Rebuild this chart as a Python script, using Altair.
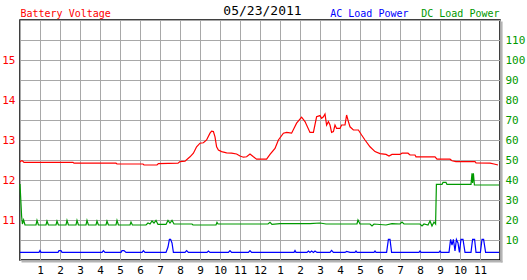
import altair as alt
import pandas as pd

# ---------------- data ----------------
volt_hours = [0.0, 0.05, 0.12, 0.2, 2.65, 2.7, 4.8, 4.85, 6.15, 6.2, 6.85, 6.92, 7.9, 8.0,
              8.25, 8.5, 8.67, 8.83, 9.0, 9.17, 9.33, 9.5, 9.58, 9.67, 9.75, 9.83, 9.92,
              10.08, 10.33, 10.58, 10.83, 11.0, 11.17, 11.33, 11.5, 11.67, 11.83, 12.0,
              12.33, 12.5, 12.75, 12.92, 13.17, 13.33, 13.58, 13.83, 14.08, 14.25, 14.5,
              14.67, 14.83, 15.0, 15.08, 15.17, 15.25, 15.33, 15.42, 15.5, 15.58, 15.67,
              15.75, 15.83, 16.0, 16.08, 16.25, 16.33, 16.42, 16.5, 16.67, 16.92, 17.08,
              17.25, 17.5, 17.75, 18.0, 18.3, 18.45, 18.6, 19.0, 19.1, 19.4, 19.5, 19.75,
              19.8, 20.75, 20.85, 21.5, 21.6, 21.8, 22.75, 22.8, 23.5, 23.7, 23.9]
volt_values = [12.45, 12.48, 12.48, 12.44, 12.44, 12.42, 12.42, 12.40, 12.40, 12.375, 12.375, 12.41, 12.42, 12.46,
               12.47, 12.58, 12.67, 12.83, 12.92, 12.93, 13.0, 13.17, 13.22, 13.21, 13.08, 12.83, 12.75,
               12.71, 12.68, 12.67, 12.65, 12.6, 12.57, 12.58, 12.65, 12.58, 12.52, 12.52,
               12.52, 12.64, 12.79, 13.0, 13.17, 13.19, 13.17, 13.42, 13.57, 13.46, 13.19,
               13.19, 13.58, 13.61, 13.54, 13.58, 13.65, 13.375, 13.46, 13.375, 13.19, 13.21,
               13.375, 13.29, 13.29, 13.375, 13.375, 13.625, 13.46, 13.33, 13.25, 13.25, 13.125,
               13.0, 12.83, 12.71, 12.66, 12.64, 12.6, 12.64, 12.64, 12.67, 12.67, 12.625, 12.625,
               12.58, 12.58, 12.52, 12.52, 12.48, 12.46, 12.46, 12.43, 12.42, 12.4, 12.375]

dc_hours = [0.0, 0.04, 0.08, 0.12, 0.18, 0.25, 0.8, 0.85, 0.92, 1.3, 1.35, 1.42, 1.8, 1.85, 1.92,
            2.3, 2.35, 2.42, 2.8, 2.85, 2.92, 3.3, 3.35, 3.42, 3.8, 3.85, 3.92, 4.3, 4.35, 4.42,
            4.8, 4.85, 4.92, 5.5, 5.55, 5.62, 6.3, 6.4, 6.5, 6.6, 6.7, 6.8, 6.9, 7.3, 7.4, 7.5,
            7.6, 7.7, 8.6, 8.65, 9.8, 9.85, 9.9, 12.4, 12.5, 12.6, 13.0, 14.5, 15.0, 15.3,
            16.85, 16.9, 17.0, 17.5, 17.6, 17.7, 18.3, 18.6, 19.0, 19.1, 19.2, 20.0, 20.1, 20.2,
            20.4, 20.5, 20.6, 20.7, 20.78, 20.82, 21.1, 21.15, 21.3, 21.35, 22.55, 22.6, 22.63,
            22.67, 22.72, 23.95]
dc_values = [38, 30, 22, 18, 20, 17.5, 17.5, 19.8, 17.5, 17.5, 19.5, 17.5, 17.5, 19.5, 17.5,
             17.5, 19.8, 17.5, 17.5, 19.8, 17.5, 17.5, 19.8, 17.5, 17.5, 19.5, 17.5, 17.5, 19.5, 17.5,
             17.5, 19.8, 17.5, 17.5, 19.0, 17.5, 17.5, 18.5, 18.0, 19.5, 18.5, 19.8, 17.8, 17.8, 19.8, 18.5,
             19.8, 18.0, 18.0, 17.5, 17.5, 18.8, 18.0, 18.0, 18.8, 17.8, 18.2, 18.2, 18.5, 18.0,
             18.0, 20.0, 18.0, 18.0, 17.0, 18.0, 17.5, 18.2, 18.0, 19.0, 18.0, 18.0, 17.0, 18.0,
             17.5, 19.5, 17.0, 19.0, 18.0, 37.8, 37.8, 38.8, 38.8, 37.8, 37.8, 43.3, 38.5,
             43.3, 37.5, 37.5]

ac_hours = [0.0, 0.95, 1.0, 1.05, 1.9, 1.95, 2.05, 2.1, 4.1, 4.17, 4.25, 5.05, 5.1, 5.2, 5.3,
            6.1, 6.17, 6.25, 7.3, 7.4, 7.47, 7.53, 7.6, 7.67, 8.25, 8.33, 8.42, 9.35, 9.42, 9.5,
            10.42, 10.5, 10.58, 11.42, 11.5, 11.58, 13.7, 13.75, 13.8, 14.35, 14.42, 14.5, 14.58,
            14.67, 14.75, 14.85, 15.5, 15.58, 15.67, 16.25, 16.33, 16.5, 16.75, 16.8, 16.85,
            17.7, 17.75, 17.8, 18.33, 18.42, 18.5, 18.58, 19.95, 20.0, 20.05, 20.95, 21.0, 21.05,
            21.45, 21.53, 21.6, 21.67, 21.75, 21.82, 21.9, 21.97, 22.05, 22.15, 22.25, 22.55,
            22.63, 22.73, 22.8, 23.02, 23.1, 23.18, 23.28, 23.95]
ac_values = [3.8, 3.8, 4.7, 3.8, 3.8, 4.7, 4.7, 3.8, 3.8, 4.7, 3.8, 3.8, 4.7, 4.7, 3.8,
             3.8, 4.7, 3.8, 3.8, 6.5, 10.3, 10.3, 8.5, 3.8, 3.8, 4.7, 3.8, 3.8, 4.5, 3.8,
             3.8, 4.7, 3.8, 3.8, 4.7, 3.8, 3.8, 4.7, 3.8, 3.8, 4.5, 3.8, 4.5,
             3.8, 4.5, 3.8, 3.8, 4.8, 3.8, 3.8, 4.3, 3.8, 3.8, 4.5, 3.8,
             3.8, 4.5, 3.8, 3.8, 10.3, 10.3, 3.8, 3.8, 4.5, 3.8, 3.8, 4.5, 3.8,
             3.8, 10.3, 7.5, 10.3, 4.5, 10.3, 8.5, 3.8, 10.3, 10.3, 3.8, 3.8,
             10.3, 10.3, 3.8, 3.8, 10.3, 10.3, 3.8, 3.8]

hour_ticks = list(range(0, 25))
volt_ticks = [10, 10.5, 11, 11.5, 12, 12.5, 13, 13.5, 14, 14.5, 15, 15.5, 16]
power_ticks = [0, 10, 20, 30, 40, 50, 60, 70, 80, 90, 100, 110, 120]

date_text = "05/23/2011"
volt_title = "Battery Voltage"
ac_title = "AC Load Power"
dc_title = "DC Load Power"

assert len(volt_hours) == len(volt_values)
assert len(dc_hours) == len(dc_values)
assert len(ac_hours) == len(ac_values)

volt_df = pd.DataFrame({"hour": volt_hours, "volts": volt_values})
power_df = pd.concat([
    pd.DataFrame({"hour": ac_hours, "watts": ac_values, "series": "AC"}),
    pd.DataFrame({"hour": dc_hours, "watts": dc_values, "series": "DC"}),
], ignore_index=True)

FONT = "DejaVu Sans Mono"
RED = "#ff0000"
GREEN = "#009900"
BLUE = "#0000ff"
GRID = "#a8a8a8"

x_enc = alt.X(
    "hour:Q",
    scale=alt.Scale(domain=[0, 24], nice=False, zero=False),
    axis=alt.Axis(
        values=hour_ticks,
        labelExpr="datum.value == 0 || datum.value == 24 ? '' : (datum.value == 12 ? '12' : '' + (datum.value % 12))",
        grid=True, gridColor=GRID, gridWidth=1, gridOpacity=1,
        ticks=False, domain=False, tickSize=0,
        labelFont=FONT, labelFontSize=11, labelColor="black",
        labelPadding=4, labelOverlap=False, labelFlush=False, title=None,
    ),
)

volt = alt.Chart(volt_df).mark_line(color=RED, strokeWidth=1.2).encode(
    x=x_enc,
    y=alt.Y(
        "volts:Q",
        scale=alt.Scale(domain=[10, 16], nice=False, zero=False),
        axis=alt.Axis(
            orient="left", values=volt_ticks,
            labelExpr="datum.value % 1 == 0 && datum.value > 10 && datum.value < 16 ? format(datum.value, 'd') : ''",
            grid=True, gridColor=GRID, gridWidth=1, gridOpacity=1,
            ticks=False, tickSize=0, domain=False,
            labelColor=RED, labelFont=FONT, labelFontSize=11, labelPadding=5,
            labelOverlap=False, labelFlush=False,
            title=volt_title, titleAngle=0, titleX=0, titleY=-3.5,
            titleAlign="left", titleBaseline="alphabetic",
            titleColor=RED, titleFont=FONT, titleFontSize=10, titleFontWeight="normal",
        ),
    ),
)

power = alt.Chart(power_df).mark_line(strokeWidth=1.2).encode(
    x=x_enc,
    y=alt.Y(
        "watts:Q",
        scale=alt.Scale(domain=[0, 120], nice=False, zero=True),
        axis=alt.Axis(
            orient="right", values=power_ticks,
            labelExpr="datum.value > 0 && datum.value < 120 ? format(datum.value, 'd') : ''",
            grid=False, ticks=False, tickSize=0, domain=False,
            labelColor=GREEN, labelFont=FONT, labelFontSize=11, labelPadding=5,
            labelOverlap=False, labelFlush=False,
            title=dc_title, titleAngle=0, titleX=-1, titleY=-3.5,
            titleAlign="right", titleBaseline="alphabetic",
            titleColor=GREEN, titleFont=FONT, titleFontSize=10, titleFontWeight="normal",
        ),
    ),
    color=alt.Color("series:N", scale=alt.Scale(domain=["AC", "DC"], range=[BLUE, GREEN]), legend=None),
    detail="series:N",
)

one = pd.DataFrame({"date": [date_text], "ac": [ac_title]})

date_label = alt.Chart(one).mark_text(
    align="center", baseline="alphabetic", font=FONT, fontSize=13, color="black"
).encode(text="date:N", x=alt.value(242.5), y=alt.value(-5))

ac_label = alt.Chart(one).mark_text(
    align="right", baseline="alphabetic", font=FONT, fontSize=10, color=BLUE
).encode(text="ac:N", x=alt.value(388.5), y=alt.value(-3.5))

shadow_right = alt.Chart(one).mark_rule(color="#b4b4b4", strokeWidth=1.8).encode(
    x=alt.value(481.7), y=alt.value(1.5), y2=alt.value(242.5))
shadow_bottom = alt.Chart(one).mark_rule(color="#b4b4b4", strokeWidth=1.8).encode(
    x=alt.value(1.5), x2=alt.value(482.5), y=alt.value(241.7))

chart = alt.layer(
    shadow_right, shadow_bottom, volt, power, date_label, ac_label
).resolve_scale(y="independent").properties(
    width=480, height=240,
    autosize=alt.AutoSizeParams(type="none"),
    padding={"left": 20, "top": 20, "right": 27, "bottom": 20},
    background="white",
).configure_view(stroke="black", strokeWidth=1.5)

chart.save("out.html", embed_options={"renderer": "svg", "actions": False})
